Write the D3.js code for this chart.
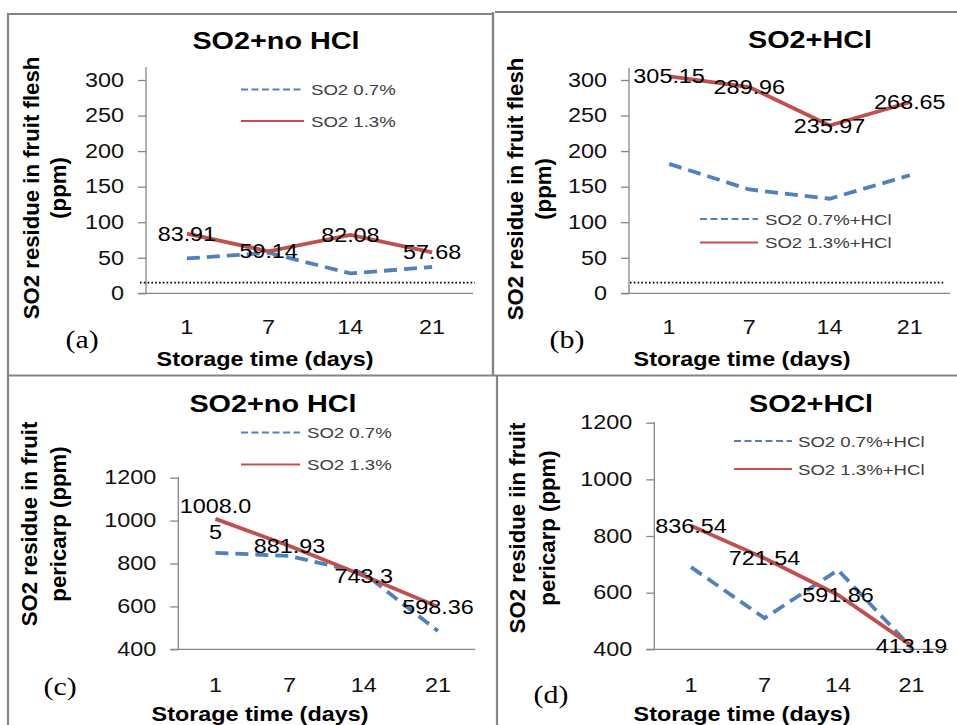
<!DOCTYPE html>
<html>
<head>
<meta charset="utf-8">
<script src="https://cdn.jsdelivr.net/npm/d3@7"></script>
<style>
  body { margin: 0; background: #fff; }
  svg { display: block; font-family: "Liberation Sans", Arial, sans-serif; }
</style>
</head>
<body>
<script>
// data
const days = ['1', '7', '14', '21'];

const fleshNoHcl07 = [49, 57, 28, 37];
const fleshNoHcl13 = [83.91, 59.14, 82.08, 57.68];
const fleshHcl07 = [182, 146, 133, 166];
const fleshHcl13 = [305.15, 289.96, 235.97, 268.65];

const pericarpNoHcl07 = [850, 835, 755, 485];
const pericarpNoHcl13 = [1008.05, 881.93, 743.3, 598.36];
const pericarpHcl07 = [690, 510, 680, 405];
const pericarpHcl13 = [836.54, 721.54, 591.86, 413.19];

const fleshTicks = [0, 50, 100, 150, 200, 250, 300];
const pericarpTicks = [400, 600, 800, 1000, 1200];
const limitValue = 15;

const legendNoHcl = ['SO2 0.7%', 'SO2 1.3%'];
const legendHcl = ['SO2 0.7%+HCl', 'SO2 1.3%+HCl'];

// layout
const W = 957, H = 725, SX = 1.2;
const blue = '#4f81bd', red = '#c0504d', axisGray = '#868686';

const panels = [
  { title: 'SO2+no HCl', low: fleshNoHcl07, high: fleshNoHcl13, ticks: fleshTicks, legend: legendNoHcl,
    yLab: ['SO2 residue in fruit flesh', '(ppm)'], letter: '(a)', limit: true,
    x0: 146, x1: 473, yTop: 80, yBot: 293.3, axisTop: 67, limX: [140, 475],
    titleX: 276, titleY: 49, yLabX: [39, 66], yLabY: 188, xTickY: 334, xTitleX: 265, xTitleY: 366,
    letterX: 82, letterY: 348, leg: { x0: 241, x1: 304, y: [89.5, 121], tx: 311 } },
  { title: 'SO2+HCl', low: fleshHcl07, high: fleshHcl13, ticks: fleshTicks, legend: legendHcl,
    yLab: ['SO2 residue in fruit flesh', '(ppm)'], letter: '(b)', limit: true,
    x0: 629, x1: 950, yTop: 80, yBot: 293.3, axisTop: 68, limX: [630, 945],
    titleX: 810, titleY: 48, yLabX: [523, 551], yLabY: 189, xTickY: 334, xTitleX: 742, xTitleY: 366,
    letterX: 567, letterY: 348, leg: { x0: 700, x1: 758, y: [219, 242.5], tx: 765 } },
  { title: 'SO2+no HCl', low: pericarpNoHcl07, high: pericarpNoHcl13, ticks: pericarpTicks, legend: legendNoHcl,
    yLab: ['SO2 residue in fruit', 'pericarp (ppm)'], letter: '(c)', limit: false,
    x0: 178.3, x1: 475, yTop: 477.7, yBot: 649.3, axisTop: 477, limX: null,
    titleX: 273, titleY: 411.5, yLabX: [37, 66], yLabY: 524, xTickY: 691.5, xTitleX: 260, xTitleY: 720.5,
    letterX: 60, letterY: 695, leg: { x0: 241, x1: 300, y: [432.5, 464.5], tx: 307 } },
  { title: 'SO2+HCl', low: pericarpHcl07, high: pericarpHcl13, ticks: pericarpTicks, legend: legendHcl,
    yLab: ['SO2 residue iin fruit', 'pericarp (ppm)'], letter: '(d)', limit: false,
    x0: 654.3, x1: 948.3, yTop: 422.7, yBot: 649.3, axisTop: 422, limX: null,
    titleX: 811, titleY: 411.5, yLabX: [525, 554.5], yLabY: 528, xTickY: 691.5, xTitleX: 742, xTitleY: 720.5,
    letterX: 551, letterY: 703, leg: { x0: 734, x1: 792, y: [441, 469], tx: 798 } }
];

const svg = d3.select('body').append('svg')
  .attr('width', W)
  .attr('height', H);

// panel frames
const frames = [
  [[8, 725], [8, 14], [493, 14], [493, 375.5]],
  [[495, 12], [957, 12]],
  [[493, 12], [493, 375.5]],
  [[8, 375.5], [957, 375.5]],
  [[497, 375.5], [497, 725]]
];
svg.selectAll('path.frame')
  .data(frames)
  .join('path')
    .attr('class', 'frame')
    .attr('d', d3.line())
    .attr('fill', 'none')
    .attr('stroke', '#858585')
    .attr('stroke-width', 2.2);

function stretched(g, txt, x, y, opts) {
  return g.append('text')
    .attr('transform', `translate(${x},${y}) scale(${opts.sx || SX},1)`)
    .attr('text-anchor', opts.anchor || 'middle')
    .attr('font-size', opts.size)
    .attr('font-weight', opts.bold ? 'bold' : null)
    .attr('font-family', opts.family || null)
    .attr('fill', opts.fill || '#000')
    .text(txt);
}

panels.forEach(p => {
  const g = svg.append('g');

  const x = d3.scalePoint()
    .domain(days)
    .range([p.x0, p.x1])
    .padding(0.5);

  const y = d3.scaleLinear()
    .domain(d3.extent(p.ticks))
    .range([p.yBot, p.yTop]);

  // y axis
  const yAxis = g.append('g')
    .attr('transform', `translate(${p.x0},0)`)
    .call(d3.axisLeft(y)
      .tickValues(p.ticks)
      .tickFormat(d3.format('d'))
      .tickSize(8)
      .tickSizeOuter(0));
  yAxis.select('.domain').remove();
  yAxis.selectAll('line').attr('stroke', axisGray).attr('stroke-width', 1.3);
  yAxis.selectAll('text')
    .attr('x', null)
    .attr('transform', `translate(-22,0) scale(${SX},1)`)
    .attr('font-size', 19.5)
    .attr('font-family', '"Liberation Sans", Arial, sans-serif')
    .attr('fill', '#111');

  g.append('line')
    .attr('x1', p.x0).attr('x2', p.x0)
    .attr('y1', p.axisTop).attr('y2', p.yBot)
    .attr('stroke', axisGray).attr('stroke-width', 1.3);
  g.append('line')
    .attr('x1', p.x0 - 8).attr('x2', p.x1)
    .attr('y1', p.yBot).attr('y2', p.yBot)
    .attr('stroke', axisGray).attr('stroke-width', 1.3);

  // x tick labels
  days.forEach(d => stretched(g, d, x(d), p.xTickY, { size: 19.5, fill: '#111' }));

  // dotted limit line
  if (p.limit) {
    g.append('line')
      .attr('x1', p.limX[0]).attr('x2', p.limX[1])
      .attr('y1', y(limitValue)).attr('y2', y(limitValue))
      .attr('stroke', '#000').attr('stroke-width', 1.6)
      .attr('stroke-dasharray', '1.6,2.2');
  }

  const line = d3.line()
    .x((_, i) => x(days[i]))
    .y(v => y(v));

  g.append('path')
    .datum(p.low)
    .attr('d', line)
    .attr('fill', 'none')
    .attr('stroke', blue)
    .attr('stroke-width', 3.8)
    .attr('stroke-dasharray', '13,7');

  g.append('path')
    .datum(p.high)
    .attr('d', line)
    .attr('fill', 'none')
    .attr('stroke', red)
    .attr('stroke-width', 3.8);

  // value labels of the 1.3% series, centred on the points
  p.high.forEach((v, i) => {
    const s = String(v);
    const parts = s.length > 6 ? [s.slice(0, 6), s.slice(6)] : [s];
    const cy = y(v);
    parts.forEach((t, k) => {
      const off = (k - (parts.length - 1) / 2) * 26;
      stretched(g, t, x(days[i]), cy + off + 7, { size: 19.5 });
    });
  });

  // legend
  [blue, red].forEach((c, k) => {
    g.append('line')
      .attr('x1', p.leg.x0).attr('x2', p.leg.x1)
      .attr('y1', p.leg.y[k]).attr('y2', p.leg.y[k])
      .attr('stroke', c)
      .attr('stroke-width', 2.2)
      .attr('stroke-dasharray', k === 0 ? '7,3.5' : null);
    stretched(g, p.legend[k], p.leg.tx, p.leg.y[k] + 5.8, { size: 15.5, anchor: 'start', fill: '#404040' });
  });

  // titles
  stretched(g, p.title, p.titleX, p.titleY, { size: 24, bold: true });
  stretched(g, 'Storage time (days)', p.xTitleX, p.xTitleY, { size: 19.5, bold: true });
  stretched(g, p.letter, p.letterX, p.letterY, { size: 26, family: '"Liberation Serif", "Times New Roman", serif', sx: 1.15 });

  p.yLab.forEach((t, k) => {
    g.append('text')
      .attr('transform', `translate(${p.yLabX[k]},${p.yLabY}) rotate(-90)`)
      .attr('text-anchor', 'middle')
      .attr('font-size', 22.2)
      .attr('font-weight', 'bold')
      .text(t);
  });
});
</script>
</body>
</html>
